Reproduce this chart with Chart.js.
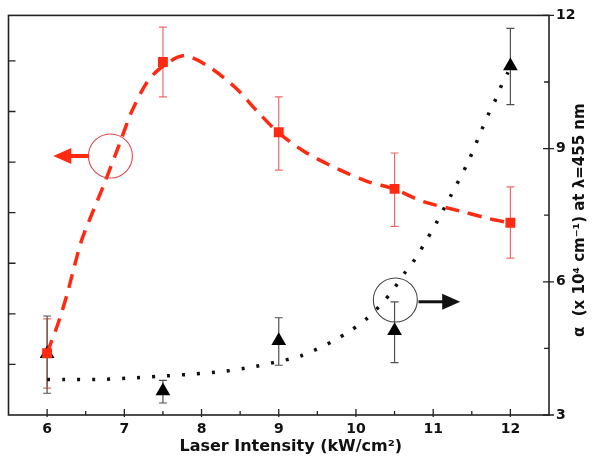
<!DOCTYPE html>
<html>
<head>
  <meta charset="utf-8" />
  <script src="https://cdn.jsdelivr.net/npm/chart.js@4.4.1/dist/chart.umd.min.js"></script>
  <style>
    body{margin:0;background:#fff;overflow:hidden;}
    #chart{display:block;}
  </style>
</head>
<body>
<canvas id="chart" width="592" height="464"></canvas>
<script>
/* ---------- Data ---------- */
const intensity     = [6, 7.5, 9, 10.5, 12];          // kW/cm^2

// left axis (unlabelled), red squares
const redValues     = [1.22, 6.98, 5.59, 4.47, 3.80];
const redErrHigh    = [1.90, 7.67, 6.29, 5.18, 4.51];
const redErrLow     = [0.53, 6.29, 4.84, 3.73, 3.10];

// right axis, alpha (x 10^4 cm^-1), black triangles
const alphaValues   = [4.38, 3.54, 4.67, 4.90, 10.86];
const alphaErrHigh  = [5.23, 3.78, 5.19, 5.55, 11.71];
const alphaErrLow   = [3.49, 3.27, 4.12, 4.18, 9.99];

// guide-to-the-eye curves
const redFitX   = [6.0, 6.06, 6.14, 6.26, 6.36, 6.46, 6.74, 6.96, 7.09, 7.29, 7.47, 7.76, 8.06, 8.44, 8.70, 8.99, 9.34, 9.77, 10.16, 10.49, 10.87, 11.38, 11.73, 11.98];
const redFitY   = [1.22, 1.47, 1.80, 2.39, 2.98, 3.51, 4.57, 5.45, 5.98, 6.57, 6.86, 7.10, 6.92, 6.47, 6.04, 5.59, 5.20, 4.86, 4.61, 4.47, 4.22, 4.02, 3.88, 3.80];
const alphaFitX = [6.0, 6.23, 6.64, 7.04, 7.45, 7.87, 8.28, 8.69, 8.88, 9.30, 9.71, 9.91, 10.12, 10.32, 10.49, 10.64, 10.78, 10.91, 11.03, 11.24, 11.45, 11.63, 11.72, 11.82, 11.91, 11.97];
const alphaFitY = [3.80, 3.80, 3.80, 3.83, 3.87, 3.92, 3.98, 4.09, 4.16, 4.34, 4.67, 4.88, 5.14, 5.48, 5.84, 6.22, 6.55, 6.93, 7.29, 7.98, 8.69, 9.43, 9.79, 10.15, 10.53, 10.72];

// ticks
const xTicks      = [6, 7, 8, 9, 10, 11, 12];
const xMinorTicks = [6.5, 7.5, 8.5, 9.5, 10.5, 11.5];
const rightTicks  = [3, 6, 9, 12];
const rightMinor  = [4.5, 7.5, 10.5];
const leftTicks   = [1, 2, 3, 4, 5, 6, 7];

// annotation circles / arrows, in data units
const leftMark  = { x: 6.82, y: 5.12, tail: 6.54, tip: 6.08 };
const rightMark = { x: 10.51, y: 5.59, tail: 10.81, tip: 11.35, ay: 5.55 };

const RED = '#ff2a12';
const FONT = '"DejaVu Sans", Verdana, sans-serif';

const pts = (xs, ys) => xs.map((x, i) => ({ x, y: ys[i] }));

/* ---------- Error bars ---------- */
const errorBars = {
  id: 'errorBars',
  beforeDatasetsDraw(chart){
    const ctx = chart.ctx, x = chart.scales.x;
    const sets = [
      { s: chart.scales.yL, hi: redErrHigh, lo: redErrLow, c: '#ee6a6a' },
      { s: chart.scales.yR, hi: alphaErrHigh, lo: alphaErrLow, c: '#505050' }
    ];
    ctx.save();
    ctx.lineWidth = 1.2;
    sets.forEach(st => {
      ctx.strokeStyle = st.c;
      intensity.forEach((v, i) => {
        const px = x.getPixelForValue(v);
        const y1 = st.s.getPixelForValue(st.hi[i]), y2 = st.s.getPixelForValue(st.lo[i]);
        ctx.beginPath();
        ctx.moveTo(px, y1); ctx.lineTo(px, y2);
        ctx.moveTo(px - 4, y1); ctx.lineTo(px + 4, y1);
        ctx.moveTo(px - 4, y2); ctx.lineTo(px + 4, y2);
        ctx.stroke();
      });
    });
    ctx.restore();
  }
};

/* ---------- Frame, inward ticks, titles, markers ---------- */
function arrow(ctx, x0, x1, y, col, w){
  const dir = Math.sign(x1 - x0);
  ctx.strokeStyle = col; ctx.fillStyle = col; ctx.lineWidth = w;
  ctx.beginPath(); ctx.moveTo(x0, y); ctx.lineTo(x1 - dir * 14, y); ctx.stroke();
  ctx.beginPath();
  ctx.moveTo(x1, y); ctx.lineTo(x1 - dir * 18, y - 8); ctx.lineTo(x1 - dir * 18, y + 8);
  ctx.closePath(); ctx.fill();
}

const frame = {
  id: 'frame',
  afterDraw(chart){
    const { ctx, chartArea: a } = chart;
    const x = chart.scales.x, yL = chart.scales.yL, yR = chart.scales.yR;
    ctx.save();
    ctx.strokeStyle = '#222'; ctx.lineWidth = 1.6;
    ctx.strokeRect(a.left, a.top, a.right - a.left, a.bottom - a.top);

    ctx.lineWidth = 1.3;
    ctx.beginPath();
    xTicks.forEach(v => { const p = x.getPixelForValue(v); ctx.moveTo(p, a.bottom + 2); ctx.lineTo(p, a.bottom - 6); });
    xMinorTicks.forEach(v => { const p = x.getPixelForValue(v); ctx.moveTo(p, a.bottom); ctx.lineTo(p, a.bottom - 4); });
    rightTicks.forEach(v => { const p = yR.getPixelForValue(v); ctx.moveTo(a.right - 6, p); ctx.lineTo(a.right + 5, p); });
    rightMinor.forEach(v => { const p = yR.getPixelForValue(v); ctx.moveTo(a.right - 5, p); ctx.lineTo(a.right, p); });
    leftTicks.forEach(v => { const p = yL.getPixelForValue(v); ctx.moveTo(a.left, p); ctx.lineTo(a.left + 7, p); });
    ctx.stroke();

    // annotation marks
    const lcx = x.getPixelForValue(leftMark.x), lcy = yL.getPixelForValue(leftMark.y);
    ctx.strokeStyle = '#e04848'; ctx.lineWidth = 1.1;
    ctx.beginPath(); ctx.arc(lcx, lcy, 22, 0, Math.PI * 2); ctx.stroke();
    arrow(ctx, x.getPixelForValue(leftMark.tail), x.getPixelForValue(leftMark.tip), lcy, RED, 4);

    const rcx = x.getPixelForValue(rightMark.x), rcy = yR.getPixelForValue(rightMark.y);
    ctx.strokeStyle = '#444'; ctx.lineWidth = 1.1;
    ctx.beginPath(); ctx.arc(rcx, rcy, 22, 0, Math.PI * 2); ctx.stroke();
    arrow(ctx, x.getPixelForValue(rightMark.tail), x.getPixelForValue(rightMark.tip), yR.getPixelForValue(rightMark.ay), '#111', 3);

    // axis titles
    ctx.fillStyle = '#111';
    ctx.font = 'bold 16px ' + FONT;
    ctx.textAlign = 'center'; ctx.textBaseline = 'alphabetic';
    ctx.fillText('Laser Intensity (kW/cm²)', (a.left + a.right) / 2 + 12, 451);
    ctx.translate(580, (a.top + a.bottom) / 2 + 5);
    ctx.rotate(-Math.PI / 2);
    ctx.font = 'bold 15px ' + FONT;
    ctx.textBaseline = 'middle';
    ctx.fillText('α  (x 10⁴ cm⁻¹) at λ=455 nm', 0, 0);
    ctx.restore();
  }
};

/* ---------- Chart ---------- */
const tickFont = { family: FONT, size: 14, weight: 'bold' };

new Chart(document.getElementById('chart'), {
  type: 'line',
  data: {
    datasets: [
      { data: pts(redFitX, redFitY), yAxisID: 'yL', borderColor: RED, borderWidth: 3.5,
        borderDash: [14, 9], pointRadius: 0, tension: 0.3, fill: false },
      { data: pts(alphaFitX, alphaFitY), yAxisID: 'yR', borderColor: '#111', borderWidth: 3.5,
        borderDash: [3, 12], pointRadius: 0, tension: 0.3, fill: false },
      { data: pts(intensity, redValues), yAxisID: 'yL', showLine: false, pointStyle: 'rect',
        pointRadius: 7, backgroundColor: RED, borderColor: RED, borderWidth: 0 },
      { data: pts(intensity, alphaValues), yAxisID: 'yR', showLine: false, pointStyle: 'triangle',
        pointRadius: 8.5, backgroundColor: '#000', borderColor: '#000', borderWidth: 0 }
    ]
  },
  options: {
    responsive: false,
    animation: false,
    layout: { padding: { left: 4, top: 12, right: 0, bottom: 0 } },
    plugins: { legend: { display: false }, tooltip: { enabled: false } },
    scales: {
      x: {
        type: 'linear', min: 5.5, max: 12.5,
        grid: { display: false, drawTicks: false }, border: { display: false },
        afterBuildTicks: s => { s.ticks = xTicks.map(v => ({ value: v })); },
        afterFit: s => { s.height = 49; },
        ticks: { color: '#111', font: tickFont, padding: 6, maxRotation: 0, autoSkip: false }
      },
      yL: {
        position: 'left', min: 0, max: 7.9,
        grid: { display: false, drawTicks: false }, border: { display: false },
        ticks: { display: false },
        afterFit: s => { s.width = 0; }
      },
      yR: {
        position: 'right', min: 3, max: 12,
        grid: { display: false, drawTicks: false }, border: { display: false },
        afterBuildTicks: s => { s.ticks = rightTicks.map(v => ({ value: v })); },
        afterFit: s => { s.width = 43; },
        ticks: { color: '#111', font: tickFont, padding: 7 }
      }
    }
  },
  plugins: [errorBars, frame]
});
</script>
</body>
</html>
